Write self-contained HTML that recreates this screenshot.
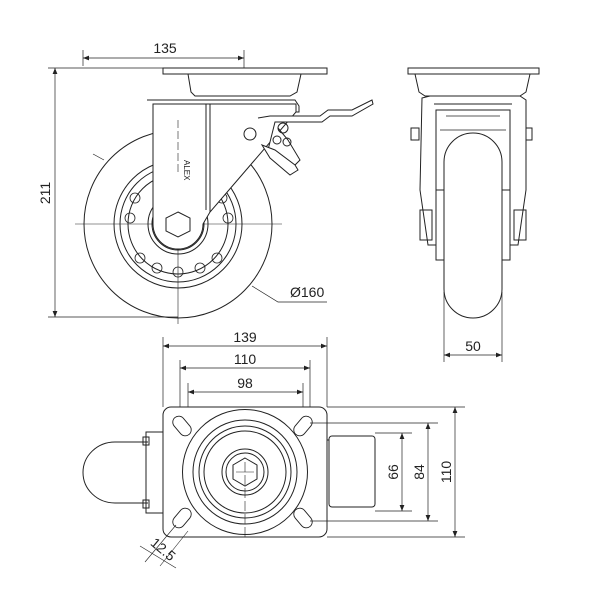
<!DOCTYPE html>
<html><head><meta charset="utf-8"><style>
html,body{margin:0;padding:0;background:#fff}
svg{display:block}
text{font-family:"Liberation Sans",sans-serif;font-size:14px;fill:#222}
</style></head><body>
<svg width="600" height="600" viewBox="0 0 600 600" xmlns="http://www.w3.org/2000/svg">
<defs>
<marker id="a" viewBox="0 0 10 10" refX="10" refY="5" markerWidth="8" markerHeight="6" orient="auto-start-reverse" markerUnits="userSpaceOnUse"><path d="M0,1 L10,5 L0,9z" fill="#222"/></marker>
</defs>
<g fill="none" stroke="#222" stroke-width="1">
<!-- SIDE VIEW -->
<line x1="83" y1="50" x2="83" y2="66" stroke-width="0.7"/>
<line x1="244" y1="50" x2="244" y2="82" stroke-width="0.7"/>
<line x1="83" y1="58" x2="244" y2="58" marker-start="url(#a)" marker-end="url(#a)" stroke-width="0.7"/>
<line x1="48" y1="68" x2="163" y2="68" stroke-width="0.7"/>
<line x1="48" y1="317" x2="178" y2="317" stroke-width="0.7"/>
<line x1="55" y1="68" x2="55" y2="317" marker-start="url(#a)" marker-end="url(#a)" stroke-width="0.7"/>
<circle cx="178" cy="224" r="94"/>
<circle cx="178" cy="224" r="64"/>
<circle cx="178" cy="224" r="58"/>
<circle cx="178" cy="224" r="50"/>
<circle cx="178" cy="224" r="30"/>
<circle cx="178" cy="224" r="26"/>
<g stroke-width="0.8">
<circle cx="135" cy="198" r="5"/><circle cx="130" cy="218" r="5"/><circle cx="140" cy="258" r="5"/><circle cx="157" cy="268" r="5"/><circle cx="200" cy="268" r="5"/><circle cx="217" cy="258" r="5"/><circle cx="228" cy="218" r="5"/><circle cx="222" cy="198" r="5"/><circle cx="178" cy="272" r="5"/>
</g>
<line x1="75" y1="224" x2="282" y2="224" stroke-width="0.6"/>
<line x1="178" y1="120" x2="178" y2="324" stroke-width="0.6"/>
<rect x="163" y="68" width="164" height="6" fill="#fff"/>
<path d="M188,74 L301,74 L297,92 L290,96 L195,96 L191,92Z" fill="#fff"/>
<path d="M147,100 L295,100 L299,106 L299,112 L210,112" fill="#fff"/>
<path d="M153,104 L153,224 A25,25 0 0 0 203,224 L210,212 L296,112 L296,104 Z" fill="#fff"/>
<line x1="210" y1="104" x2="210" y2="212"/>
<line x1="206" y1="104" x2="206" y2="210"/>
<path d="M178,212 l12,6 0,13 -12,6 -12,-6 0,-13z" fill="#fff"/>
<line x1="178" y1="120" x2="178" y2="175" stroke-width="0.6" stroke-dasharray="8,3"/>
<!-- brake -->
<path d="M258,118 L270,116 L320,116 L328,110 L352,110 L372,100 L373,104 L352,116 L330,116 L322,122 L275,122 L268,150 L290,170 L300,160 L288,140 L278,128" fill="#fff"/>
<circle cx="250" cy="134" r="6" fill="#fff"/>
<circle cx="283" cy="128" r="5"/><circle cx="277" cy="140" r="4"/><circle cx="287" cy="142" r="4"/>
<path d="M262,145 L275,150 L295,165 L298,170 L290,175 L270,158Z" fill="#fff"/>
<!-- Ø160 -->
<polyline points="252,286 278,302 327,302" stroke-width="0.7"/>
<line x1="104" y1="160" x2="93" y2="154" stroke-width="0.7"/>

<!-- FRONT VIEW -->
<rect x="408" y="68" width="131" height="6" fill="#fff"/>
<path d="M415,74 L530,74 L526,92 L520,96 L425,96 L419,92Z" fill="#fff"/>
<path d="M422,98 L430,96 L520,96 L526,100 L526,190 L518,245 L510,245 L510,110 L436,110 L436,245 L428,245 L420,190Z" fill="#fff"/>
<line x1="434" y1="104" x2="512" y2="104"/>
<rect x="411" y="128" width="8" height="12"/><rect x="526" y="128" width="6" height="12"/>
<rect x="420" y="210" width="12" height="30"/><rect x="514" y="210" width="12" height="30"/>
<rect x="436" y="190" width="8" height="70"/><rect x="502" y="190" width="8" height="70"/>
<path d="M444,162 A29,29 0 0 1 502,162 L502,289 A29,29 0 0 1 444,289Z" fill="#fff"/>
<path d="M440,130 L506,130 M446,116 L500,116" stroke-width="0.7"/>
<line x1="444" y1="292" x2="444" y2="362" stroke-width="0.7"/>
<line x1="502" y1="292" x2="502" y2="362" stroke-width="0.7"/>
<line x1="444" y1="355" x2="502" y2="355" marker-start="url(#a)" marker-end="url(#a)" stroke-width="0.7"/>

<!-- TOP VIEW -->
<line x1="163" y1="337" x2="163" y2="407" stroke-width="0.7"/>
<line x1="327" y1="337" x2="327" y2="407" stroke-width="0.7"/>
<line x1="163" y1="346" x2="327" y2="346" marker-start="url(#a)" marker-end="url(#a)" stroke-width="0.7"/>
<line x1="180" y1="360" x2="180" y2="425" stroke-width="0.7"/>
<line x1="310" y1="360" x2="310" y2="425" stroke-width="0.7"/>
<line x1="180" y1="368" x2="310" y2="368" marker-start="url(#a)" marker-end="url(#a)" stroke-width="0.7"/>
<line x1="188" y1="383" x2="188" y2="430" stroke-width="0.7"/>
<line x1="303" y1="383" x2="303" y2="430" stroke-width="0.7"/>
<line x1="188" y1="392" x2="303" y2="392" marker-start="url(#a)" marker-end="url(#a)" stroke-width="0.7"/>
<!-- brake dome -->
<path d="M148,442 L115,442 A32,30.5 0 0 0 115,503 L148,503" fill="#fff"/>
<rect x="146" y="432" width="17" height="81"/>
<rect x="143" y="437" width="6" height="8"/><rect x="143" y="500" width="6" height="8"/>
<rect x="163" y="407" width="164" height="130" rx="8" fill="#fff"/>
<rect x="329" y="436" width="46" height="71" rx="3" fill="#fff"/>
<line x1="327" y1="440" x2="329" y2="440"/>
<circle cx="245" cy="472" r="62.5" fill="#fff"/>
<circle cx="245" cy="472" r="52"/>
<circle cx="245" cy="472" r="46"/>
<circle cx="245" cy="472" r="41"/>
<circle cx="245" cy="472" r="23"/>
<circle cx="245" cy="472" r="19"/>
<path d="M245,458 l12,7 0,14 -12,7 -12,-7 0,-14z"/>
<line x1="236" y1="472" x2="254" y2="472" stroke-width="0.6"/>
<line x1="245" y1="462" x2="245" y2="540" stroke-width="0.6" stroke-dasharray="10,3"/>
<!-- slots -->
<g stroke-width="0.9">
<rect x="176" y="415" width="12" height="22" rx="6" transform="rotate(-40 182 426)"/>
<rect x="297" y="415" width="12" height="22" rx="6" transform="rotate(40 303 426)"/>
<rect x="176" y="507" width="12" height="22" rx="6" transform="rotate(40 182 518)"/>
<rect x="297" y="507" width="12" height="22" rx="6" transform="rotate(-40 303 518)"/>
</g>
<!-- right dims -->
<line x1="327" y1="407" x2="465" y2="407" stroke-width="0.7"/>
<line x1="327" y1="537" x2="465" y2="537" stroke-width="0.7"/>
<line x1="310" y1="423" x2="438" y2="423" stroke-width="0.7"/>
<line x1="310" y1="521" x2="438" y2="521" stroke-width="0.7"/>
<line x1="375" y1="433" x2="412" y2="433" stroke-width="0.7"/>
<line x1="375" y1="511" x2="412" y2="511" stroke-width="0.7"/>
<line x1="402" y1="433" x2="402" y2="511" marker-start="url(#a)" marker-end="url(#a)" stroke-width="0.7"/>
<line x1="428" y1="423" x2="428" y2="521" marker-start="url(#a)" marker-end="url(#a)" stroke-width="0.7"/>
<line x1="455" y1="407" x2="455" y2="537" marker-start="url(#a)" marker-end="url(#a)" stroke-width="0.7"/>
<!-- 12.5 -->
<line x1="176" y1="525" x2="145" y2="562" stroke-width="0.6"/>
<line x1="188" y1="531" x2="160" y2="566" stroke-width="0.6"/>
<line x1="140" y1="546" x2="176" y2="568" stroke-width="0.6"/>
</g>
<text x="165" y="53" text-anchor="middle">135</text>
<text transform="translate(50,193) rotate(-90)" text-anchor="middle">211</text>
<text x="290" y="297">Ø160</text>
<text x="473" y="351" text-anchor="middle">50</text>
<text x="245" y="342" text-anchor="middle">139</text>
<text x="245" y="364" text-anchor="middle">110</text>
<text x="245" y="388" text-anchor="middle">98</text>
<text transform="translate(398,472) rotate(-90)" text-anchor="middle">66</text>
<text transform="translate(424,472) rotate(-90)" text-anchor="middle">84</text>
<text transform="translate(451,472) rotate(-90)" text-anchor="middle">110</text>
<text transform="translate(160,553) rotate(40)" text-anchor="middle">12.5</text>
<text transform="translate(184,160) rotate(90)" style="font-size:8px">ALEX</text>
</svg>
</body></html>
